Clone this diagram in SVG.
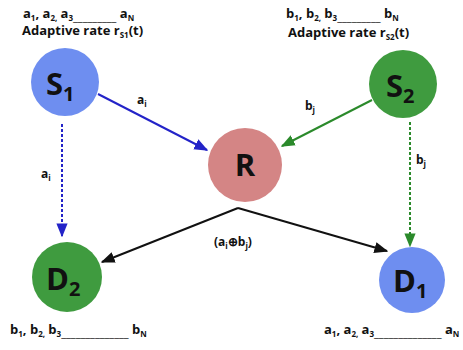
<svg xmlns="http://www.w3.org/2000/svg" width="463" height="350" viewBox="0 0 463 350">
<style>
text{font-family:"Open Sans","Liberation Sans",sans-serif;font-weight:bold;fill:#111}
.lab{font-size:13px}
.sm{font-size:8px}
.us{font-size:11px;font-weight:normal}
.node{font-size:31px}
.sub{font-size:20px}
.el{font-size:12px}
.blueN{fill:#6e8ef0}
.greenN{fill:#3f9b3f}
.redN{fill:#d48585}
</style>
<defs>
<marker id="ab" viewBox="0 0 10 10" refX="9" refY="5" markerWidth="7" markerHeight="7" orient="auto"><path d="M0,1 L10,5 L0,9 z" fill="#2323c8"/></marker>
<marker id="ag" viewBox="0 0 10 10" refX="9" refY="5" markerWidth="7" markerHeight="7" orient="auto"><path d="M0,1 L10,5 L0,9 z" fill="#2b8a2b"/></marker>
<marker id="ak" viewBox="0 0 10 10" refX="9" refY="5" markerWidth="7" markerHeight="7" orient="auto"><path d="M0,1 L10,5 L0,9 z" fill="#111"/></marker>
</defs>
<g id="connectors" fill="none" stroke-width="2">
<line x1="98" y1="94" x2="207" y2="150" stroke="#2323c8" marker-end="url(#ab)"/>
<line x1="372" y1="100" x2="282" y2="146" stroke="#2b8a2b" marker-end="url(#ag)"/>
<line x1="62" y1="124" x2="62" y2="236" stroke="#2323c8" stroke-dasharray="3,2" marker-end="url(#ab)"/>
<line x1="410" y1="122" x2="410" y2="246" stroke="#2b8a2b" stroke-dasharray="3,2" marker-end="url(#ag)"/>
<line x1="238" y1="208" x2="387" y2="251" stroke="#111" marker-end="url(#ak)"/>
<line x1="238" y1="208" x2="102" y2="262" stroke="#111" marker-end="url(#ak)"/>
</g>
<g id="S1">
<circle cx="65" cy="82" r="34" class="blueN"/>
<text x="46" y="95" class="node">S<tspan class="sub" dy="6">1</tspan></text>
</g>
<g id="S2">
<circle cx="403" cy="84" r="34" class="greenN"/>
<text x="386" y="97" class="node">S<tspan class="sub" dy="6">2</tspan></text>
</g>
<g id="R">
<circle cx="245" cy="165" r="37" class="redN"/>
<text x="245" y="176" class="node" text-anchor="middle">R</text>
</g>
<g id="D2">
<circle cx="67" cy="277" r="35" class="greenN"/>
<text x="46" y="290" class="node">D<tspan class="sub" dy="6">2</tspan></text>
</g>
<g id="D1">
<circle cx="412" cy="280" r="33" class="blueN"/>
<text x="393" y="292" class="node">D<tspan class="sub" dy="6">1</tspan></text>
</g>
<g id="labels">
<text x="23" y="18" class="lab">a<tspan class="sm" dy="3">1</tspan><tspan dy="-3">, a</tspan><tspan class="sm" dy="3">2,</tspan><tspan dy="-3"> a</tspan><tspan class="sm" dy="3">3</tspan><tspan class="us">_________</tspan><tspan dy="-3"> a</tspan><tspan class="sm" dy="3">N</tspan></text>
<text x="22" y="35" class="lab">Adaptive rate r<tspan class="sm" dy="3">S1</tspan><tspan dy="-3">(t)</tspan></text>
<text x="286" y="18" class="lab">b<tspan class="sm" dy="3">1</tspan><tspan dy="-3">, b</tspan><tspan class="sm" dy="3">2,</tspan><tspan dy="-3"> b</tspan><tspan class="sm" dy="3">3</tspan><tspan class="us">_________</tspan><tspan dy="-3"> b</tspan><tspan class="sm" dy="3">N</tspan></text>
<text x="288" y="37" class="lab">Adaptive rate r<tspan class="sm" dy="3">S2</tspan><tspan dy="-3">(t)</tspan></text>
<text x="10" y="334" class="lab">b<tspan class="sm" dy="3">1</tspan><tspan dy="-3">, b</tspan><tspan class="sm" dy="3">2,</tspan><tspan dy="-3"> b</tspan><tspan class="sm" dy="3">3</tspan><tspan class="us">______________</tspan><tspan dy="-3"> b</tspan><tspan class="sm" dy="3">N</tspan></text>
<text x="324" y="334" class="lab">a<tspan class="sm" dy="3">1</tspan><tspan dy="-3">, a</tspan><tspan class="sm" dy="3">2,</tspan><tspan dy="-3"> a</tspan><tspan class="sm" dy="3">3</tspan><tspan class="us">______________</tspan><tspan dy="-3"> a</tspan><tspan class="sm" dy="3">N</tspan></text>
<text x="137" y="104" class="el">a<tspan class="sm" dy="3">i</tspan></text>
<text x="305" y="110" class="el">b<tspan class="sm" dy="3">j</tspan></text>
<text x="41" y="178" class="el">a<tspan class="sm" dy="3">i</tspan></text>
<text x="416" y="164" class="el">b<tspan class="sm" dy="3">j</tspan></text>
<text x="214" y="246" class="el">(a<tspan class="sm" dy="3">i</tspan><tspan dy="-3">⊕b</tspan><tspan class="sm" dy="3">j</tspan><tspan dy="-3">)</tspan></text>
</g>
</svg>
